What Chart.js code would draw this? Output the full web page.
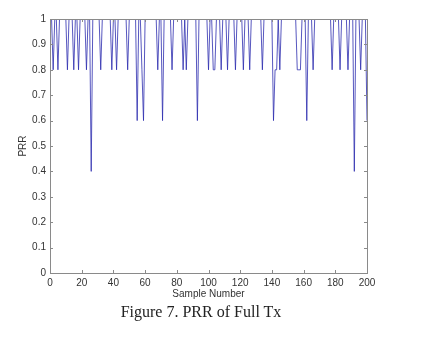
<!DOCTYPE html>
<html>
<head>
<meta charset="utf-8">
<script src="https://cdn.jsdelivr.net/npm/chart.js@4/dist/chart.umd.min.js"></script>
<style>
  body { margin: 0; background: #fff; }
  #wrap { position: relative; width: 437px; height: 340px; }
  #caption {
    position: absolute; left: 0; width: 402px; top: 303px;
    text-align: center; font-family: "Liberation Serif", serif;
    font-size: 16px; color: #222;
  }
</style>
</head>
<body>
<div id="wrap">
  <canvas id="prrChart" width="437" height="340"></canvas>
  <div id="caption">Figure 7. PRR of Full Tx</div>
</div>
<script>
// PRR per sample, samples 1..200
const prrValues = [
  1, 0.8, 1, 1, 0.8, 1, 1, 1, 1, 1,   0.8, 1, 1, 1, 0.8, 1, 1, 0.8, 1, 1,
  1, 1, 0.8, 1, 1, 0.4, 1, 1, 1, 1,   1, 0.8, 1, 1, 1, 1, 1, 1, 0.8, 1,
  1, 0.8, 1, 1, 1, 1, 1, 1, 0.8, 1,   1, 1, 1, 1, 0.6, 1, 1, 0.8, 0.6, 1,
  1, 1, 1, 1, 1, 1, 1, 0.8, 1, 1,     0.6, 1, 1, 1, 1, 1, 0.8, 1, 1, 1,
  1, 1, 1, 0.8, 1, 0.8, 1, 1, 1, 1,   1, 1, 0.6, 1, 1, 1, 1, 1, 1, 0.8,
  1, 1, 0.8, 0.8, 1, 1, 1, 0.8, 1, 1, 1, 0.8, 1, 1, 1, 1, 0.8, 1, 1, 1,
  1, 0.8, 1, 1, 1, 0.8, 1, 1, 1, 1,   1, 1, 1, 0.8, 1, 1, 1, 1, 1, 1,
  0.6, 0.8, 0.8, 1, 0.8, 1, 1, 1, 1, 1, 1, 1, 1, 1, 1, 0.8, 0.8, 0.8, 1, 1,
  1, 0.6, 1, 1, 1, 0.8, 1, 1, 1, 1,   1, 1, 1, 1, 1, 1, 1, 0.8, 1, 1,
  1, 1, 0.8, 1, 1, 1, 1, 0.8, 1, 1,   1, 0.4, 1, 1, 1, 0.8, 1, 1, 1, 0.6
];
const xTicks = [0, 20, 40, 60, 80, 100, 120, 140, 160, 180, 200];
const yTicks = [0, 0.1, 0.2, 0.3, 0.4, 0.5, 0.6, 0.7, 0.8, 0.9, 1];

const points = prrValues.map((v, i) => ({ x: i + 1, y: v }));

// matlab-style box with inward ticks
const boxPlugin = {
  id: 'box',
  afterDatasetsDraw(chart) {
    const ctx = chart.ctx;
    const a = chart.chartArea;
    const xs = chart.scales.x, ys = chart.scales.y;
    ctx.save();
    ctx.strokeStyle = '#8a8a8a';
    ctx.lineWidth = 1;
    ctx.strokeRect(Math.round(a.left) + 0.5, Math.round(a.top) + 0.5,
      Math.round(a.right - a.left), Math.round(a.bottom - a.top));
    ctx.beginPath();
    xTicks.forEach(t => {
      const px = Math.round(xs.getPixelForValue(t)) + 0.5;
      ctx.moveTo(px, a.bottom); ctx.lineTo(px, a.bottom - 3);
      ctx.moveTo(px, a.top); ctx.lineTo(px, a.top + 3);
    });
    yTicks.forEach(t => {
      const py = Math.round(ys.getPixelForValue(t)) + 0.5;
      ctx.moveTo(a.left, py); ctx.lineTo(a.left + 3, py);
      ctx.moveTo(a.right, py); ctx.lineTo(a.right - 3, py);
    });
    ctx.stroke();
    ctx.restore();
  }
};

const font = { family: '"Liberation Sans", Arial, sans-serif', size: 10 };

new Chart(document.getElementById('prrChart'), {
  type: 'line',
  data: {
    datasets: [{
      label: 'PRR',
      data: points,
      borderColor: 'rgba(45, 45, 175, 0.8)',
      borderWidth: 1,
      pointRadius: 0,
      tension: 0,
      fill: false
    }]
  },
  options: {
    responsive: false,
    animation: false,
    layout: { padding: { left: 13, top: 19, right: 70, bottom: 37 } },
    plugins: { legend: { display: false }, tooltip: { enabled: false } },
    scales: {
      x: {
        type: 'linear', min: 0, max: 200,
        afterBuildTicks: s => { s.ticks = xTicks.map(v => ({ value: v })); },
        afterFit: s => { s.height = 30; },
        grid: { display: false, drawTicks: false },
        border: { display: false },
        ticks: { font: font, color: '#333', padding: 4, maxRotation: 0 },
        title: { display: true, text: 'Sample Number', font: font, color: '#333', padding: { top: 2, bottom: 3 } }
      },
      y: {
        min: 0, max: 1,
        afterBuildTicks: s => { s.ticks = yTicks.map(v => ({ value: v })); },
        afterFit: s => { s.width = 37; },
        grid: { display: false, drawTicks: false },
        border: { display: false },
        ticks: { font: font, color: '#333', padding: 4, callback: v => String(v) },
        title: { display: true, text: 'PRR', font: font, color: '#333', padding: 4 }
      }
    }
  },
  plugins: [boxPlugin]
});
</script>
</body>
</html>
